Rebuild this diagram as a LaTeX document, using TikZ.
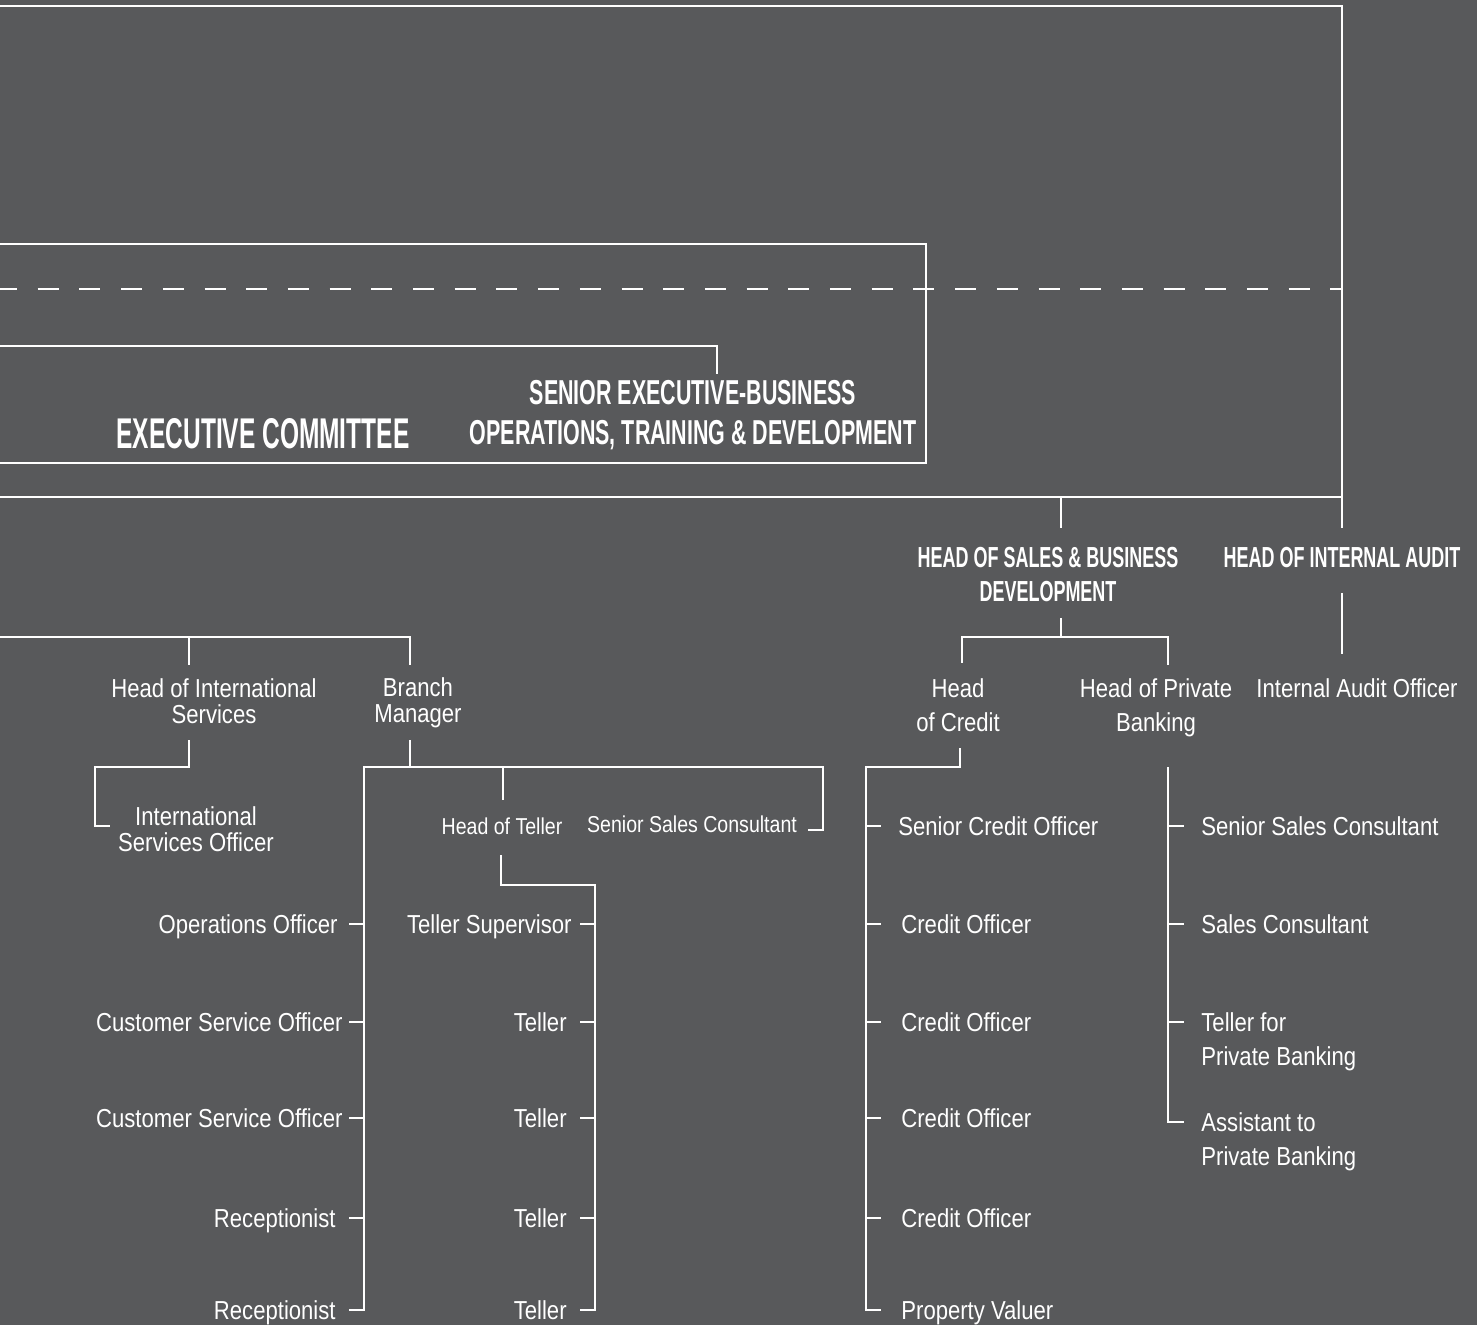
\documentclass[tikz,border=0pt]{standalone}
\usepackage{fontspec}
\setmainfont{Liberation Sans}[FakeStretch=0.85]
\newfontfamily\headfont{Liberation Sans}[FakeStretch=0.62]
\newfontfamily\bigfont{Liberation Sans}[FakeStretch=0.57]
\definecolor{chartgray}{RGB}{88,89,91}

\begin{document}
\begin{tikzpicture}[x=0.5pt,y=-0.5pt,
    line/.style={draw=white,line width=1.1pt},
    role/.style={text=white,inner sep=0pt,font=\fontsize{13}{17}\selectfont},
    single/.style={role,text height=9.5pt,text depth=0pt},
    tight/.style={role,align=center,font=\fontsize{13}{12.8}\selectfont},
    minor/.style={role,font=\fontsize{11.5}{14}\selectfont},
    head/.style={text=white,inner sep=0pt,align=center,font=\headfont\bfseries\fontsize{14.5}{17}\selectfont}]

    \useasboundingbox (0,0) rectangle (1477,1325);
    \fill[chartgray] (0,0) rectangle (1477,1325);

    \node[text=white,inner sep=0pt,font=\bigfont\bfseries\fontsize{21.5}{24}\selectfont] (exco) at (263,434) {EXECUTIVE COMMITTEE};
    \node[head,font=\headfont\bfseries\fontsize{17.3}{20}\selectfont] (srex) at (693,415) {SENIOR EXECUTIVE-BUSINESS\\OPERATIONS, TRAINING \& DEVELOPMENT};
    \node[head] (hsbd) at (1048,575) {HEAD OF SALES \& BUSINESS\\DEVELOPMENT};
    \node[head] (hia) at (1342,558) {HEAD OF INTERNAL AUDIT};

    \node[single] (iao) at (1357,688) {Internal Audit Officer};
    \node[role,align=center] (hcr) at (958,705) {Head\\of Credit};
    \node[role,align=center] (hpb) at (1156,708) {Head of Private\\Banking};
    \node[tight] (his) at (214,701) {Head of International\\Services};
    \node[tight] (bm) at (418,703) {Branch\\Manager};
    \node[tight] (iso) at (196,829) {International\\Services Officer};
    \node[minor] (hte) at (502,826) {Head of Teller};
    \node[minor] (bssc) at (692,824) {Senior Sales Consultant};

    \node[single,anchor=east] (opo) at (338,924) {Operations Officer};
    \node[single,anchor=east] (cso1) at (343,1022) {Customer Service Officer};
    \node[single,anchor=east] (cso2) at (343,1118) {Customer Service Officer};
    \node[single,anchor=east] (rec1) at (336,1218) {Receptionist};
    \node[single,anchor=east] (rec2) at (336,1310) {Receptionist};

    \node[single,anchor=east] (tsup) at (572,924) {Teller Supervisor};
    \node[single,anchor=east] (tel1) at (567,1022) {Teller};
    \node[single,anchor=east] (tel2) at (567,1118) {Teller};
    \node[single,anchor=east] (tel3) at (567,1218) {Teller};
    \node[single,anchor=east] (tel4) at (567,1310) {Teller};

    \node[single,anchor=west] (sco) at (898,826) {Senior Credit Officer};
    \node[single,anchor=west] (co1) at (901,924) {Credit Officer};
    \node[single,anchor=west] (co2) at (901,1022) {Credit Officer};
    \node[single,anchor=west] (co3) at (901,1118) {Credit Officer};
    \node[single,anchor=west] (co4) at (901,1218) {Credit Officer};
    \node[single,anchor=west] (pv) at (901,1310) {Property Valuer};

    \node[single,anchor=west] (pssc) at (1201,826) {Senior Sales Consultant};
    \node[single,anchor=west] (psc) at (1201,924) {Sales Consultant};
    \node[role,anchor=west,align=left] (tpb) at (1201,1042) {Teller for\\Private Banking};
    \node[role,anchor=west,align=left] (apb) at (1201,1142) {Assistant to\\Private Banking};

    \coordinate (t0) at (0,6);
    \coordinate (m0) at (0,497);
    \coordinate (mR) at (1342,497);
    \coordinate (hiaT) at (1342,528);
    \coordinate (hsT) at (1061,528);
    \coordinate (hsJ) at (1061,497);
    \coordinate (b0) at (0,244);
    \coordinate (bR) at (926,463);
    \coordinate (b1) at (0,463);
    \coordinate (d0) at (0,289);
    \coordinate (d1) at (1342,289);
    \coordinate (s0) at (0,346);
    \coordinate (srT) at (717,374);
    \coordinate (hiaB) at (1342,593);
    \coordinate (iaoT) at (1342,654);
    \coordinate (hsB) at (1061,618);
    \coordinate (hsK) at (1061,637);
    \coordinate (hcrT) at (962,663);
    \coordinate (hpbT) at (1168,665);
    \coordinate (l0) at (0,637);
    \coordinate (bmT) at (410,665);
    \coordinate (hisK) at (189,637);
    \coordinate (hisT) at (189,665);
    \coordinate (hisB) at (189,740);
    \coordinate (isoK) at (95,767);
    \coordinate (isoE) at (110,826);
    \coordinate (bmB) at (410,740);
    \coordinate (bmJ) at (410,767);
    \coordinate (lB) at (349,1310);
    \coordinate (lT) at (364,767);
    \coordinate (rT) at (823,767);
    \coordinate (bsscE) at (808,830);
    \coordinate (hteJ) at (503,767);
    \coordinate (hteT) at (503,800);
    \coordinate (hteB) at (501,855);
    \coordinate (mT) at (595,885);
    \coordinate (mB) at (580,1310);
    \coordinate (hcrB) at (960,748);
    \coordinate (cK) at (866,767);
    \coordinate (cB) at (881,1310);
    \coordinate (pT) at (1168,767);
    \coordinate (pB) at (1184,1122);
    \coordinate (tpbK) at (1168,1022);

    \draw[line] (t0) -| (hiaT);
    \draw[line] (m0) -- (mR);
    \draw[line] (hsJ) -- (hsT);
    \draw[line] (b0) -| (bR) -- (b1);
    \draw[white,line width=1.35pt,dash pattern=on 10.5pt off 10.35pt,dash phase=2pt] (d0) -- (d1);
    \draw[line] (s0) -| (srT);
    \draw[line] (hiaB) -- (iaoT);
    \draw[line] (hsB) -- (hsK);
    \draw[line] (hcrT) |- (hsK) -| (hpbT);
    \draw[line] (l0) -| (bmT);
    \draw[line] (hisK) -- (hisT);
    \draw[line] (hisB) |- (isoK) |- (isoE);
    \draw[line] (bmB) -- (bmJ);
    \draw[line] (lB) -| (lT) -- (rT) |- (bsscE);
    \draw[line] (hteJ) -- (hteT);
    \draw[line] (hteB) |- (mT) |- (mB);
    \draw[line] (hcrB) |- (cK) |- (cB);
    \draw[line] (pT) |- (pB);
    \draw[line] (tpbK) -- +(16,0);

    \foreach \n in {opo,cso1,cso2,rec1}
        \draw[line] (lT |- \n) -- +(-15,0);
    \foreach \n in {tsup,tel1,tel2,tel3}
        \draw[line] (mT |- \n) -- +(-15,0);
    \foreach \n in {sco,co1,co2,co3,co4}
        \draw[line] (cK |- \n) -- +(15,0);
    \foreach \n in {pssc,psc}
        \draw[line] (pT |- \n) -- +(16,0);

\end{tikzpicture}
\end{document}
